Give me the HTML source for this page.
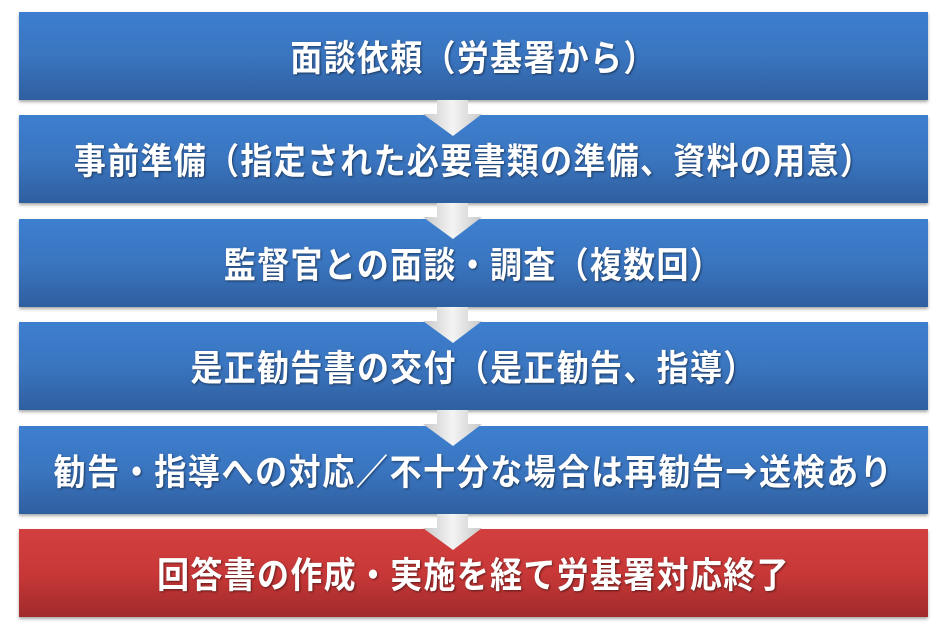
<!DOCTYPE html>
<html><head><meta charset="utf-8"><style>
body{margin:0;width:940px;height:635px;background:#fff;position:relative;overflow:hidden;font-family:"Liberation Sans","Noto Sans CJK JP",sans-serif}
.b{position:absolute;left:19px;width:909px;height:88px;background:linear-gradient(#3d7fcf,#3a75c0 50%,#2f5f9f);box-shadow:0 2px 3px rgba(0,0,0,.35);color:#fff;font-weight:bold;font-size:32px;letter-spacing:1.3px;display:flex;align-items:center;justify-content:center;text-shadow:1px 1px 2px rgba(0,0,0,.5);white-space:nowrap}
.b span{display:inline-block;transform:scaleY(1.12)}
.r{background:linear-gradient(#d23f3f,#c93838 50%,#a02a2a)}
.ar{font-family:"Noto Sans CJK JP",sans-serif}
svg{position:absolute;left:420px;width:66px;height:40px;z-index:2}
</style></head><body>
<div class="b" style="top:12px"><span>面談依頼（労基署から）</span></div>
<div class="b" style="top:115px"><span>事前準備（指定された必要書類の準備、資料の用意）</span></div>
<div class="b" style="top:219px"><span>監督官との面談・調査（複数回）</span></div>
<div class="b" style="top:322px"><span>是正勧告書の交付（是正勧告、指導）</span></div>
<div class="b" style="top:426px;letter-spacing:1.6px"><span>勧告・指導への対応／不十分な場合は再勧告<b class="ar">→</b>送検あり</span></div>
<div class="b r" style="top:529px"><span>回答書の作成・実施を経て労基署対応終了</span></div>
<svg style="top:98px" viewBox="0 0 66 40"><defs><linearGradient id="g" x1="0" x2="1"><stop offset="0" stop-color="#c8c8c8"/><stop offset=".5" stop-color="#f4f4f4"/><stop offset="1" stop-color="#c8c8c8"/></linearGradient></defs><polygon points="17,2 48,2 48,16 62,16 33,38 3,16 17,16" fill="url(#g)"/></svg>
<svg style="top:201px" viewBox="0 0 66 40"><polygon points="17,2 48,2 48,16 62,16 33,38 3,16 17,16" fill="url(#g)"/></svg>
<svg style="top:305px" viewBox="0 0 66 40"><polygon points="17,2 48,2 48,16 62,16 33,38 3,16 17,16" fill="url(#g)"/></svg>
<svg style="top:408px" viewBox="0 0 66 40"><polygon points="17,2 48,2 48,16 62,16 33,38 3,16 17,16" fill="url(#g)"/></svg>
<svg style="top:512px" viewBox="0 0 66 40"><polygon points="17,2 48,2 48,16 62,16 33,38 3,16 17,16" fill="url(#g)"/></svg>
</body></html>
